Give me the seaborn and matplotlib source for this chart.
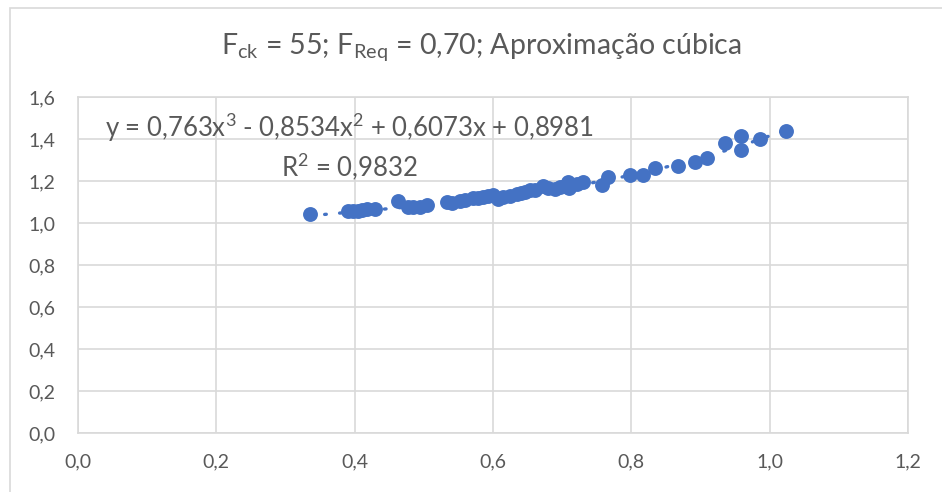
import numpy as np
import matplotlib
matplotlib.use("Agg")
import matplotlib.pyplot as plt
from matplotlib.ticker import FuncFormatter
from matplotlib.patches import Rectangle
import seaborn as sns

# data
x_vals = [0.335, 0.390, 0.398, 0.405, 0.411, 0.418, 0.429, 0.463, 0.477, 0.485,
          0.494, 0.504, 0.533, 0.540, 0.552, 0.560, 0.571, 0.578, 0.585, 0.593,
          0.600, 0.607, 0.615, 0.625, 0.634, 0.640, 0.646, 0.653, 0.660, 0.672,
          0.680, 0.689, 0.697, 0.704, 0.708, 0.710, 0.722, 0.730, 0.757, 0.766,
          0.798, 0.817, 0.834, 0.867, 0.892, 0.909, 0.935, 0.959, 0.959, 0.986,
          1.024]
y_vals = [1.043, 1.055, 1.055, 1.058, 1.062, 1.066, 1.068, 1.105, 1.078, 1.074,
          1.078, 1.086, 1.100, 1.097, 1.104, 1.108, 1.117, 1.120, 1.124, 1.128,
          1.131, 1.113, 1.122, 1.128, 1.138, 1.143, 1.148, 1.155, 1.158, 1.178,
          1.165, 1.160, 1.170, 1.175, 1.195, 1.165, 1.185, 1.195, 1.181, 1.219,
          1.229, 1.229, 1.262, 1.272, 1.291, 1.308, 1.379, 1.414, 1.348, 1.398,
          1.440]

# trendline coefficients shown on the chart (x^3, x^2, x, 1)
coefs = [0.763, -0.8534, 0.6073, 0.8981]
r2 = 0.9832

x_ticks = [0.0, 0.2, 0.4, 0.6, 0.8, 1.0, 1.2]
y_ticks = [0.0, 0.2, 0.4, 0.6, 0.8, 1.0, 1.2, 1.4, 1.6]

blue = "#4472C4"
grid_c = "#D9D9D9"
text_c = "#595959"

sns.set_style("white")
plt.rcParams["font.family"] = ["Lato", "DejaVu Sans"]
plt.rcParams["mathtext.fontset"] = "custom"
plt.rcParams["mathtext.rm"] = "Lato"
plt.rcParams["mathtext.it"] = "Lato"
plt.rcParams["mathtext.default"] = "regular"

fig = plt.figure(figsize=(9.42, 4.92), dpi=100)
ax = fig.add_axes([78 / 942, 1 - 433 / 492, 830 / 942, 336 / 492])

# chart area border
fig.patches.append(Rectangle((10 / 942, -0.01), 1.0, 1 - 8 / 492 + 0.01,
                             transform=fig.transFigure, fill=False,
                             edgecolor=grid_c, linewidth=1.2))

# trendline
xs = np.linspace(min(x_vals), max(x_vals), 200)
ax.plot(xs, np.polyval(coefs, xs), color=blue, linewidth=2.4,
        linestyle=(0, (0.5, 4.0)), dash_capstyle="round", zorder=2)

sns.scatterplot(x=x_vals, y=y_vals, ax=ax, color=blue, s=115,
                edgecolor=blue, linewidth=0, zorder=3)

ax.set_xlim(0, 1.2)
ax.set_ylim(0, 1.6)
ax.set_xticks(x_ticks)
ax.set_yticks(y_ticks)
fmt = FuncFormatter(lambda v, p: f"{v:.1f}".replace(".", ","))
ax.xaxis.set_major_formatter(fmt)
ax.yaxis.set_major_formatter(fmt)
ax.grid(True, color=grid_c, linewidth=1.2)
for s in ax.spines.values():
    s.set_color(grid_c)
    s.set_linewidth(1.2)
ax.tick_params(axis="both", length=0, labelsize=14, labelcolor=text_c)
ax.tick_params(axis="x", pad=15)
ax.tick_params(axis="y", pad=16)

fig.text(481 / 942, 1 - 47 / 492,
         r"F$_{ck}$ = 55; F$_{Req}$ = 0,70; Aproximação cúbica",
         ha="center", va="center", fontsize=20.5, color=text_c)

c3, c2, c1, c0 = coefs
def num(v):
    return f"{v}".replace(".", ",")
eq = (f"y = {num(c3)}x$^{{3}}$ - {num(abs(c2))}x$^{{2}}$ + {num(c1)}x + {num(c0)}\n"
      f"R$^{{2}}$ = {num(r2)}")
ax.text(0.393, 1.36, eq, ha="center", va="center", fontsize=18.5,
        color=text_c, linespacing=1.3)

fig.savefig("out.png", dpi=100, facecolor="white")
